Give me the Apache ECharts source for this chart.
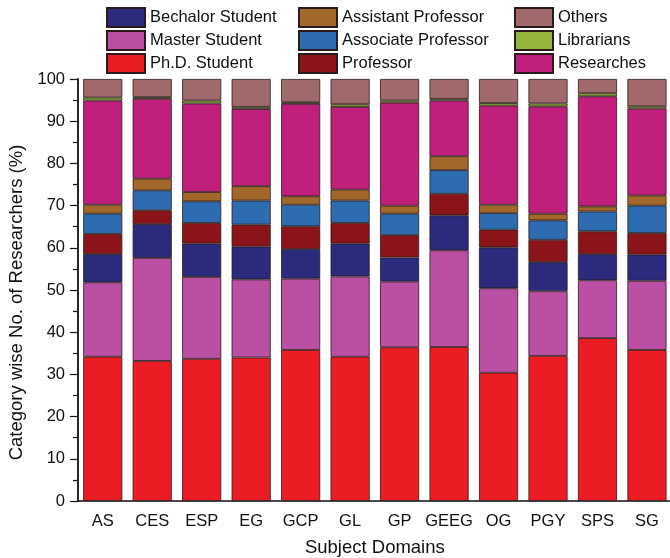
<!DOCTYPE html>
<html>
<head>
<meta charset="utf-8">
<script src="https://cdn.jsdelivr.net/npm/echarts@6/dist/echarts.min.js"></script>
<style>
  html, body { margin: 0; padding: 0; background: #fff; }
  #chart { width: 670px; height: 558px; }
</style>
</head>
<body>
<div id="chart"></div>
<script>
// Subject domains on the x axis
const categories = ['AS', 'CES', 'ESP', 'EG', 'GCP', 'GL', 'GP', 'GEEG', 'OG', 'PGY', 'SPS', 'SG'];

// Share of each researcher category per domain (%), stacked bottom to top
const phdStudent         = [34.2, 33.2, 33.7, 34.0, 35.8, 34.2, 36.4, 36.5, 30.4, 34.4, 38.6, 35.8];
const masterStudent      = [17.6, 24.4, 19.4, 18.5, 16.9, 19.0, 15.6, 22.9, 20.0, 15.3, 13.7, 16.4];
const bechalorStudent    = [6.7, 8.0, 7.9, 7.8, 7.0, 7.8, 5.7, 8.3, 9.7, 6.9, 6.2, 6.2];
const professor          = [4.8, 3.3, 4.9, 5.2, 5.4, 4.9, 5.3, 5.1, 4.2, 5.3, 5.4, 5.1];
const associateProfessor = [4.8, 4.7, 5.1, 5.7, 5.1, 5.3, 5.1, 5.6, 3.9, 4.6, 4.7, 6.5];
const assistantProfessor = [2.1, 2.8, 2.2, 3.4, 2.0, 2.6, 1.9, 3.3, 2.0, 1.6, 1.2, 2.4];
const researches         = [24.7, 18.9, 21.0, 18.3, 21.9, 19.6, 24.4, 13.2, 23.5, 25.4, 26.1, 20.6];
const librarians         = [0.7, 0.4, 0.7, 0.5, 0.4, 0.6, 0.5, 0.4, 0.6, 0.7, 0.7, 0.5];
const others             = [4.4, 4.3, 5.1, 6.6, 5.5, 6.0, 5.1, 4.7, 5.7, 5.8, 3.4, 6.5];

const yTicks = [0, 10, 20, 30, 40, 50, 60, 70, 80, 90, 100];

const seriesDefs = [
  { name: 'Ph.D. Student',       data: phdStudent,         color: '#ec1c24' },
  { name: 'Master Student',      data: masterStudent,      color: '#ba4fa4' },
  { name: 'Bechalor Student',    data: bechalorStudent,    color: '#2b2a7c' },
  { name: 'Professor',           data: professor,          color: '#8a1419' },
  { name: 'Associate Professor', data: associateProfessor, color: '#2e6cb2' },
  { name: 'Assistant Professor', data: assistantProfessor, color: '#a2672a' },
  { name: 'Researches',          data: researches,         color: '#c0207c' },
  { name: 'Librarians',          data: librarians,         color: '#94b53a' },
  { name: 'Others',              data: others,             color: '#a06a6c' }
];

const font = 'Liberation Sans, Arial, sans-serif';

function legendColumn(names, left) {
  return {
    data: names,
    orient: 'vertical',
    left: left,
    top: 7,
    padding: 0,
    itemWidth: 38,
    itemHeight: 19,
    itemGap: 2,
    icon: 'rect',
    selectedMode: false,
    textStyle: { fontFamily: font, fontSize: 16.5, color: '#111' }
  };
}

const chart = echarts.init(document.getElementById('chart'), null, { renderer: 'canvas' });

chart.setOption({
  animation: false,
  backgroundColor: '#fff',
  legend: [
    legendColumn(['Bechalor Student', 'Master Student', 'Ph.D. Student'], 106),
    legendColumn(['Assistant Professor', 'Associate Professor', 'Professor'], 298),
    legendColumn(['Others', 'Librarians', 'Researches'], 514)
  ],
  grid: { left: 78, right: -1.7, top: 79, bottom: 57, containLabel: false, outerBoundsMode: 'none' },
  xAxis: [
    {
      type: 'category',
      data: categories,
      name: 'Subject Domains',
      nameLocation: 'middle',
      nameGap: 37,
      nameTextStyle: { fontFamily: font, fontSize: 18.5, color: '#111' },
      axisLine: { lineStyle: { color: '#111', width: 1.5 } },
      axisTick: { alignWithLabel: true, length: 7, lineStyle: { color: '#111', width: 1.2 } },
      axisLabel: { interval: 0, fontFamily: font, fontSize: 16.5, color: '#111', margin: 12 },
      splitLine: { show: false }
    },
    {
      // boundary ticks between domains
      type: 'category',
      data: categories,
      position: 'bottom',
      axisLine: { show: false },
      axisTick: { interval: 0, length: 4, lineStyle: { color: '#111', width: 1.2 } },
      axisLabel: { show: false },
      splitLine: { show: false }
    }
  ],
  yAxis: {
    type: 'value',
    min: yTicks[0],
    max: yTicks[yTicks.length - 1],
    interval: 10,
    name: 'Category wise No. of Researchers (%)',
    nameLocation: 'middle',
    nameGap: 50,
    nameTextStyle: { fontFamily: font, fontSize: 18.5, color: '#111', padding: [0, 25, 0, 0] },
    axisLine: { show: true, lineStyle: { color: '#111', width: 1.8 } },
    axisTick: { show: true, length: 8, lineStyle: { color: '#111', width: 1.2 } },
    minorTick: { show: true, splitNumber: 2, length: 5, lineStyle: { color: '#111', width: 1.2 } },
    axisLabel: { fontFamily: font, fontSize: 16.5, color: '#111', margin: 13 },
    splitLine: { show: false }
  },
  series: seriesDefs.map(s => ({
    name: s.name,
    type: 'bar',
    stack: 'total',
    data: s.data,
    barCategoryGap: '21%',
    itemStyle: { color: s.color, borderColor: '#2a1a1a', borderWidth: 0.8 }
  }))
});
</script>
</body>
</html>
